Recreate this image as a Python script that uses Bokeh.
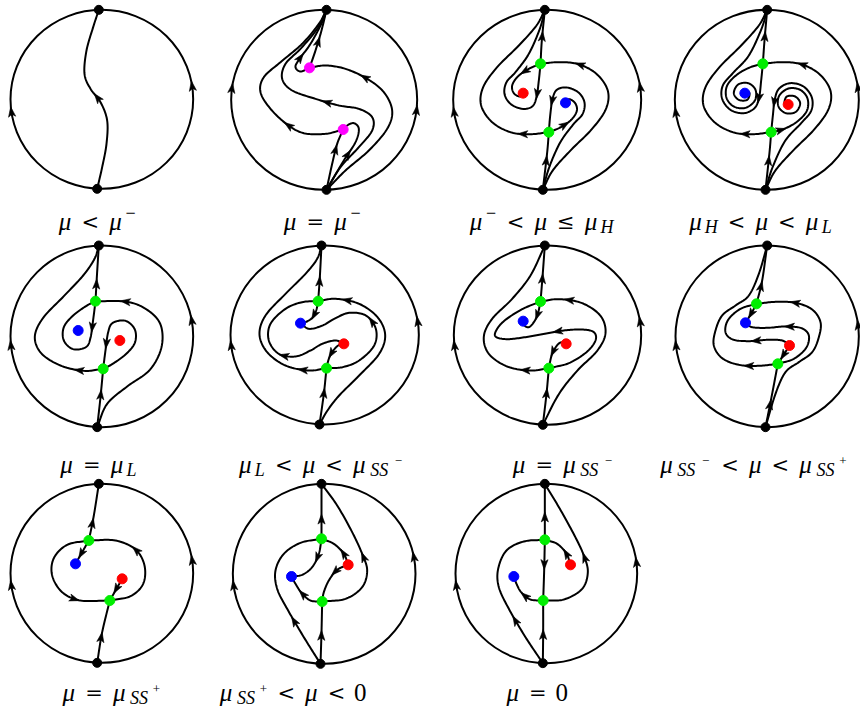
import numpy as np
from bokeh.plotting import figure
from bokeh.models import Range1d, ColumnDataSource
from bokeh.embed import file_html
from bokeh.resources import INLINE
from bokeh.core.properties import value

# ---------------------------------------------------------------------------
# Diagram data. Panel-local "sketch units":
# 3 sketch units = 1 page pixel, measured from each panel cell's corner.
# ---------------------------------------------------------------------------
CELL_ORIGIN = [(0, 0), (215, 0), (430, 0), (645, 0),
               (0, 230), (215, 230), (430, 230), (645, 230),
               (0, 475), (215, 475), (430, 475)]

# boundary circle of each portrait: centre x, centre y, radius x, radius y
CIRCLES = [(304, 296.5, 274, 268.5), (326, 298, 279, 270), (350, 298, 282, 270),
           (364, 298, 276, 270), (304, 317.5, 274, 272.5), (327.5, 313.5, 282.5, 268.5),
           (351, 314, 281, 269), (365, 317.5, 275, 272.5), (304, 293.5, 274, 268.5),
           (326, 295, 274, 270), (347.5, 294, 272.5, 269)]

# equilibria at infinity (top, bottom)
POLES = [[(295, 28), (290, 565)], [(333, 28), (333, 568)], [(343, 28), (337, 568)],
         [(365, 28), (360, 568)], [(295, 45), (290, 590)], [(318, 45), (312, 582)],
         [(343, 45), (337, 583)], [(365, 45), (360, 590)], [(295, 25), (290, 562)],
         [(318, 25), (315, 565)], [(343, 25), (337, 563)]]

# arrows on the boundary circle: (x, y, direction)
CIRCLE_ARROWS = [[(35, 335, "up"), (573, 258, "up")], [(55, 265, "up"), (600, 330, "up")],
                 [(75, 335, "up"), (620, 262, "up")], [(100, 335, "up"), (638, 262, "up")],
                 [(35, 345, "up"), (575, 270, "up")], [(55, 345, "up"), (600, 275, "up")],
                 [(78, 345, "up"), (625, 275, "up")], [(100, 345, "up"), (637, 285, "up")],
                 [(35, 330, "up"), (575, 255, "up")], [(60, 330, "up"), (595, 245, "up")],
                 [(80, 330, "up"), (612, 262, "up")]]

# finite equilibria: (x, y, kind)
EQUILIBRIA = [
    [],
    [(282, 202, "saddle-node"), (383, 387, "saddle-node")],
    [(330, 190, "saddle"), (355, 395, "saddle"), (278, 278, "red"), (405, 307, "blue")],
    [(352, 190, "saddle"), (377, 395, "saddle"), (298, 278, "blue"), (428, 312, "red")],
    [(285, 212, "saddle"), (308, 415, "saddle"), (233, 300, "blue"), (358, 330, "red")],
    [(308, 212, "saddle"), (333, 413, "saddle"), (255, 278, "blue"), (385, 340, "red")],
    [(330, 213, "saddle"), (355, 413, "saddle"), (278, 272, "blue"), (407, 340, "red")],
    [(333, 220, "saddle"), (397, 400, "saddle"), (300, 277, "blue"), (432, 345, "red")],
    [(265, 195, "saddle"), (328, 375, "saddle"), (225, 265, "blue"), (365, 310, "red")],
    [(318, 190, "saddle"), (320, 378, "saddle"), (228, 303, "blue"), (398, 268, "red")],
    [(343, 193, "saddle"), (338, 375, "saddle"), (250, 303, "blue"), (420, 268, "red")],
]

# orbits: (way-points in flow direction, arrow positions as fraction of length)
ORBITS_1 = [
    ([(290, 565), (305, 500), (318, 430), (320, 360), (300, 305), (270, 265), (252, 220),
      (258, 150), (278, 80), (295, 28)], [0.5]),
]
ORBITS_2 = [
    ([(333, 568), (390, 510), (460, 450), (515, 385), (530, 330), (505, 275), (455, 235),
      (390, 205), (330, 195), (282, 202)], [0.72]),
    ([(383, 387), (330, 400), (265, 398), (215, 372), (165, 325), (135, 275), (145, 230),
      (195, 185), (260, 130), (310, 70), (333, 28)], [0.27]),
    ([(333, 568), (375, 500), (430, 440), (470, 390), (470, 350), (430, 325), (370, 315),
      (300, 295), (230, 270), (200, 235), (210, 190), (255, 145), (305, 85), (333, 28)], [0.5]),
    ([(282, 202), (300, 150), (318, 90), (333, 28)], [0.45]),
    ([(282, 202), (255, 213), (240, 200), (250, 178), (285, 130), (320, 65), (333, 28)], [0.33]),
    ([(333, 568), (350, 490), (365, 430), (383, 387)], [0.65]),
    ([(333, 568), (385, 480), (420, 425), (430, 385), (415, 368), (395, 375), (383, 387)], [0.45]),
]
ORBITS_3 = [
    ([(330, 190), (334, 120), (343, 28)], [0.5]),
    ([(355, 395), (300, 401), (240, 395), (185, 365), (152, 315), (158, 260), (200, 200),
      (265, 135), (318, 75), (343, 28)], [0.13]),
    ([(330, 190), (325, 240), (318, 290), (305, 318), (275, 325), (240, 310), (222, 280),
      (228, 245), (255, 215), (295, 160), (328, 85), (343, 28)], [0.17]),
    ([(330, 190), (295, 205), (262, 228), (245, 255), (250, 278), (268, 288), (278, 278)], [0.3]),
    ([(337, 568), (356, 501), (389, 426), (429, 371), (456, 341), (462, 306), (444, 276),
      (409, 261), (379, 268), (366, 296), (359, 346), (355, 395)], [0.82]),
    ([(337, 568), (366, 511), (419, 451), (484, 386), (526, 326), (532, 271), (499, 221),
      (444, 191), (384, 185), (330, 190)], [0.8]),
    ([(337, 568), (350, 456), (355, 395)], [0.5]),
    ([(355, 395), (389, 381), (422, 358), (439, 331), (434, 308), (416, 296), (405, 307)], [0.3]),
]
ORBITS_4 = [
    ([(352, 190), (357, 120), (365, 28)], [0.5]),
    ([(377, 395), (322, 401), (262, 395), (207, 365), (174, 315), (180, 260), (222, 200),
      (287, 135), (340, 75), (365, 28)], [0.13]),
    ([(352, 190), (347, 240), (341, 290), (328, 322), (295, 338), (255, 328), (230, 295),
      (232, 255), (262, 218), (310, 165), (348, 85), (365, 28)], [0.18]),
    ([(352, 190), (315, 200), (275, 222), (245, 255), (243, 292), (265, 318), (300, 322),
      (328, 300), (330, 268), (308, 248), (278, 252), (265, 278), (280, 298), (305, 298),
      (312, 278), (298, 270)], []),
    ([(360, 568), (381, 501), (419, 421), (467, 368), (497, 331), (499, 291), (474, 258),
      (434, 248), (401, 264), (388, 296), (382, 346), (377, 395)], [0.84]),
    ([(360, 568), (389, 511), (442, 451), (507, 386), (549, 326), (555, 271), (522, 221),
      (467, 191), (407, 185), (352, 190)], [0.8]),
    ([(360, 568), (372, 456), (377, 395)], [0.5]),
    ([(377, 395), (414, 386), (454, 364), (484, 331), (486, 294), (464, 268), (429, 264),
      (401, 286), (399, 318), (421, 338), (451, 334), (464, 308), (449, 288), (424, 288),
      (417, 308), (428, 314)], [0.06]),
]
ORBITS_5 = [
    ([(285, 212), (289, 140), (295, 45)], [0.3]),
    ([(308, 415), (250, 421), (180, 405), (122, 368), (103, 318), (128, 262), (190, 197),
      (248, 135), (282, 85), (295, 45)], [0.12]),
    ([(285, 212), (279, 260), (270, 322), (256, 350), (218, 356), (190, 330), (190, 290),
      (218, 255), (258, 226), (285, 212)], [0.2]),
    ([(308, 415), (335, 401), (375, 372), (403, 337), (403, 297), (375, 271), (337, 277),
      (323, 305), (314, 367), (308, 415)], [0.8]),
    ([(290, 590), (320, 520), (380, 468), (448, 418), (483, 350), (480, 282), (440, 238),
      (380, 214), (285, 212)], [0.85]),
    ([(290, 590), (300, 500), (308, 415)], [0.55]),
]
ORBITS_6 = [
    ([(308, 212), (313, 140), (318, 45)], [0.35]),
    ([(333, 413), (280, 420), (210, 405), (155, 365), (132, 312), (150, 255), (210, 190),
      (270, 130), (305, 85), (318, 45)], [0.12]),
    ([(312, 582), (336, 540), (371, 495), (431, 435), (491, 370), (509, 313), (486, 260),
      (431, 220), (361, 205), (308, 212)], [0.85]),
    ([(312, 582), (325, 490), (333, 413)], [0.55]),
    ([(308, 212), (302, 240), (290, 262), (270, 275), (255, 278)], [0.45]),
    ([(385, 340), (368, 345), (352, 362), (340, 385), (333, 413)], [0.5]),
    ([(333, 413), (381, 410), (431, 390), (476, 345), (481, 295), (451, 255), (401, 247),
      (356, 265), (321, 285), (281, 295), (255, 278)], [0.5]),
    ([(385, 340), (360, 330), (320, 340), (285, 360), (240, 378), (190, 370), (160, 330),
      (165, 280), (210, 235), (260, 215), (308, 212)], [0.4]),
]
ORBITS_7 = [
    ([(330, 213), (336, 140), (343, 45)], [0.4]),
    ([(355, 413), (300, 420), (230, 408), (175, 370), (160, 318), (185, 265), (245, 205),
      (300, 135), (343, 45)], [0.12]),
    ([(337, 583), (385, 491), (440, 421), (500, 361), (525, 308), (510, 256), (455, 218),
      (385, 206), (330, 213)], [0.85]),
    ([(337, 583), (348, 490), (355, 413)], [0.55]),
    ([(330, 213), (322, 250), (310, 275), (295, 290), (282, 285), (278, 272)], [0.35]),
    ([(407, 340), (390, 336), (375, 351), (363, 376), (355, 413)], [0.5]),
    ([(355, 413), (415, 398), (468, 365), (495, 330), (490, 305), (455, 297), (400, 300),
      (343, 310), (285, 320), (230, 326), (195, 318), (200, 295), (225, 268), (275, 236),
      (330, 213)], [0.45]),
]
ORBITS_8 = [
    ([(333, 220), (350, 150), (365, 45)], [0.3]),
    ([(397, 400), (340, 406), (280, 403), (230, 383), (205, 345), (210, 300), (230, 255),
      (270, 225), (310, 195), (340, 130), (365, 45)], [0.15]),
    ([(360, 590), (390, 490), (420, 425), (460, 395), (500, 365), (520, 320), (525, 275),
      (500, 237), (450, 217), (390, 214), (333, 220)], [0.8]),
    ([(360, 590), (378, 500), (397, 400)], [0.35]),
    ([(333, 220), (318, 248), (300, 277)], [0.5]),
    ([(432, 345), (415, 372), (397, 400)], [0.5]),
    ([(397, 400), (445, 385), (482, 352), (490, 315), (468, 293), (420, 288), (365, 292),
      (320, 290), (300, 277)], [0.6]),
    ([(432, 345), (410, 330), (365, 328), (310, 332), (262, 327), (240, 305), (248, 268),
      (285, 235), (333, 220)], [0.3]),
]
ORBITS_9 = [
    ([(265, 195), (280, 120), (295, 25)], [0.3]),
    ([(265, 195), (245, 230), (225, 265)], [0.55]),
    ([(290, 562), (305, 470), (328, 375)], [0.4]),
    ([(365, 310), (345, 345), (328, 375)], [0.45]),
    ([(328, 375), (390, 362), (428, 325), (432, 270), (405, 222), (345, 195), (265, 195)], [0.6]),
    ([(265, 195), (200, 208), (160, 248), (155, 300), (185, 350), (240, 375), (328, 375)], [0.72]),
]
ORBITS_10 = [
    ([(318, 190), (318, 110), (318, 25)], [0.35]),
    ([(315, 565), (318, 470), (320, 378)], [0.45]),
    ([(315, 565), (265, 485), (215, 400), (185, 340), (180, 285), (205, 235), (255, 202),
      (318, 190)], [0.3]),
    ([(320, 378), (390, 370), (440, 335), (455, 285), (440, 235), (410, 170), (365, 90),
      (318, 25)], [0.47]),
    ([(398, 268), (385, 235), (355, 205), (318, 190)], [0.3]),
    ([(398, 268), (365, 283), (340, 315), (325, 350), (320, 378)], [0.3]),
    ([(318, 190), (310, 235), (290, 275), (260, 298), (228, 303)], [0.35]),
    ([(320, 378), (285, 375), (258, 352), (240, 325), (228, 303)], [0.5]),
]
ORBITS_11 = [
    ([(343, 193), (343, 110), (343, 25)], [0.4]),
    ([(343, 193), (341, 285), (338, 375)], [0.4]),
    ([(337, 563), (338, 470), (338, 375)], [0.45]),
    ([(337, 563), (285, 485), (235, 400), (205, 335), (203, 280), (228, 225), (280, 198),
      (343, 193)], [0.3]),
    ([(338, 375), (400, 372), (455, 340), (472, 290), (460, 240), (432, 180), (388, 100),
      (343, 25)], [0.47]),
    ([(420, 268), (408, 235), (380, 205), (343, 193)], [0.3]),
    ([(338, 375), (300, 372), (272, 350), (258, 325), (250, 303)], [0.45]),
]
ORBITS = [ORBITS_1, ORBITS_2, ORBITS_3, ORBITS_4, ORBITS_5, ORBITS_6,
          ORBITS_7, ORBITS_8, ORBITS_9, ORBITS_10, ORBITS_11]

# captions: tokens (text, role)
LABEL_TOKENS = [
    [("μ", "m"), ("<", "r"), ("μ", "m"), ("−", "sup")],
    [("μ", "m"), ("=", "r"), ("μ", "m"), ("−", "sup")],
    [("μ", "m"), ("−", "sup"), ("<", "r"), ("μ", "m"), ("≤", "r"), ("μ", "m"), ("H", "sub")],
    [("μ", "m"), ("H", "sub"), ("<", "r"), ("μ", "m"), ("<", "r"), ("μ", "m"), ("L", "sub")],
    [("μ", "m"), ("=", "r"), ("μ", "m"), ("L", "sub")],
    [("μ", "m"), ("L", "sub"), ("<", "r"), ("μ", "m"), ("<", "r"), ("μ", "m"), ("SS", "sub"), ("−", "ssup")],
    [("μ", "m"), ("=", "r"), ("μ", "m"), ("SS", "sub"), ("−", "ssup")],
    [("μ", "m"), ("SS", "sub"), ("−", "ssup"), ("<", "r"), ("μ", "m"), ("<", "r"), ("μ", "m"), ("SS", "sub"), ("+", "ssup")],
    [("μ", "m"), ("=", "r"), ("μ", "m"), ("SS", "sub"), ("+", "ssup")],
    [("μ", "m"), ("SS", "sub"), ("+", "ssup"), ("<", "r"), ("μ", "m"), ("<", "r"), ("0", "n")],
    [("μ", "m"), ("=", "r"), ("0", "n")],
]

# ---------------------------------------------------------------------------
# layout & styles
# ---------------------------------------------------------------------------
LABEL_CENTER = [97, 322, 541, 760, 98, 321, 563, 753, 111, 292, 536]
LABEL_BASELINE = [221, 221, 221, 221, 464, 464, 464, 464, 692, 692, 692]
ADVANCE = {"μ": 15.7, "<": 20.2, "=": 20.2, "≤": 20.2, "0": 13.0, "H": 16.0, "L": 13.5,
           "SS": 24.0, "−": 14.5, "+": 11.0}
REL_SPACE = 7.2
EQ_COLOR = {"saddle-node": "#ff00ff", "saddle": "#00ee00", "red": "#ff0000", "blue": "#0000ff"}
# role: (font, size, style, baseline shift)
ROLE_STYLE = {"m": ("Liberation Serif", 25, "italic", 0),
              "r": ("DejaVu Serif", 21, "normal", 0),
              "n": ("Liberation Serif", 25, "normal", 0),
              "sub": ("Liberation Serif", 18, "italic", 5),
              "sup": ("Liberation Serif", 18, "normal", -9),
              "ssup": ("Liberation Serif", 13, "normal", -4)}
LW = 2.0

p = figure(width=860, height=707, output_backend="svg", toolbar_location=None,
           x_range=Range1d(0, 860), y_range=Range1d(707, 0),
           x_axis_type=None, y_axis_type=None, min_border=0)
p.grid.visible = False
p.outline_line_color = None
p.background_fill_color = "white"
p.border_fill_color = "white"


def to_page(i, pts):
    ox, oy = CELL_ORIGIN[i]
    a = np.asarray(pts, float)
    return np.column_stack([ox + a[:, 0] / 3.0, oy + a[:, 1] / 3.0])


def smooth(P, n=14):
    if len(P) < 2:
        return P
    ext = np.vstack([2 * P[0] - P[1], P, 2 * P[-1] - P[-2]])
    out = []
    for i in range(1, len(ext) - 2):
        p0, p1, p2, p3 = ext[i - 1], ext[i], ext[i + 1], ext[i + 2]
        for t in np.linspace(0, 1, n, endpoint=False):
            out.append(0.5 * (2 * p1 + (-p0 + p2) * t + (2 * p0 - 5 * p1 + 4 * p2 - p3) * t * t
                              + (-p0 + 3 * p1 - 3 * p2 + p3) * t ** 3))
    out.append(P[-1])
    return np.array(out)


def arrow_head(c, d):
    d = d / np.hypot(*d)
    nrm = np.array([-d[1], d[0]])
    tip = c + d * 5.5
    back = c - d * 4.5
    pts = [tip, back + nrm * 3.6, c - d * 2.0, back - nrm * 3.6]
    return [q[0] for q in pts], [q[1] for q in pts]


line_xs, line_ys = [], []
head_xs, head_ys = [], []
ell = dict(x=[], y=[], w=[], h=[])
poles = dict(x=[], y=[])
eqs = dict(x=[], y=[], c=[])

for i in range(len(CELL_ORIGIN)):
    ox, oy = CELL_ORIGIN[i]
    cx, cy, rx, ry = CIRCLES[i]
    ell["x"].append(ox + cx / 3); ell["y"].append(oy + cy / 3)
    ell["w"].append(2 * rx / 3); ell["h"].append(2 * ry / 3)
    for (ax, ay, direction) in CIRCLE_ARROWS[i]:
        th = np.arctan2((ay - cy) / ry, (ax - cx) / rx)
        P = np.array([cx + rx * np.cos(th), cy + ry * np.sin(th)])
        T = np.array([-rx * np.sin(th), ry * np.cos(th)])
        if (direction == "up" and T[1] > 0) or (direction == "down" and T[1] < 0):
            T = -T
        c = to_page(i, [P])[0]
        hx, hy = arrow_head(c, T)
        head_xs.append(hx); head_ys.append(hy)
    for pts, ts in ORBITS[i]:
        S = smooth(to_page(i, pts))
        line_xs.append(list(S[:, 0])); line_ys.append(list(S[:, 1]))
        seg = np.hypot(*np.diff(S, axis=0).T)
        cum = np.concatenate([[0], np.cumsum(seg)])
        for t in ts:
            s = t * cum[-1]
            c = np.array([np.interp(s, cum, S[:, 0]), np.interp(s, cum, S[:, 1])])
            s0, s1 = max(s - 3, 0), min(s + 3, cum[-1])
            a0 = np.array([np.interp(s0, cum, S[:, 0]), np.interp(s0, cum, S[:, 1])])
            a1 = np.array([np.interp(s1, cum, S[:, 0]), np.interp(s1, cum, S[:, 1])])
            hx, hy = arrow_head(c, a1 - a0)
            head_xs.append(hx); head_ys.append(hy)
    for q in to_page(i, POLES[i]):
        poles["x"].append(q[0]); poles["y"].append(q[1])
    for (ex, ey, kind) in EQUILIBRIA[i]:
        q = to_page(i, [(ex, ey)])[0]
        eqs["x"].append(q[0]); eqs["y"].append(q[1]); eqs["c"].append(EQ_COLOR[kind])

p.ellipse(x="x", y="y", width="w", height="h", source=ColumnDataSource(ell),
          fill_color=None, line_color="black", line_width=LW)
p.multi_line(line_xs, line_ys, line_color="black", line_width=LW, line_join="round",
             line_cap="round")
p.patches(head_xs, head_ys, fill_color="black", line_color="black", line_width=0.6)
p.scatter(x="x", y="y", source=ColumnDataSource(poles), size=9, color="black")
p.scatter(x="x", y="y", source=ColumnDataSource(eqs), size=10, fill_color="c", line_color="c")

# captions: TeX-like horizontal layout of the tokens, centred on each label centre
groups = {}
for i, toks in enumerate(LABEL_TOKENS):
    placed, xpos = [], 0.0
    for txt, role in toks:
        if role == "r":
            xpos += REL_SPACE
        w = ADVANCE[txt]
        placed.append((txt, role, xpos + w / 2))
        xpos += w
        if role == "r":
            xpos += REL_SPACE
    left = LABEL_CENTER[i] - xpos / 2
    for txt, role, xc in placed:
        font, size, style, dy = ROLE_STYLE[role]
        g = groups.setdefault((font, size, style), dict(x=[], y=[], t=[]))
        g["x"].append(left + xc); g["y"].append(LABEL_BASELINE[i] + dy); g["t"].append(txt)
for (font, size, style), g in groups.items():
    p.text(x="x", y="y", text="t", source=ColumnDataSource(g), text_font=value(font),
           text_font_size=f"{size}px", text_font_style=style, text_align="center",
           text_baseline="alphabetic", text_color="black")

open("out.html", "w").write(file_html(p, INLINE))
